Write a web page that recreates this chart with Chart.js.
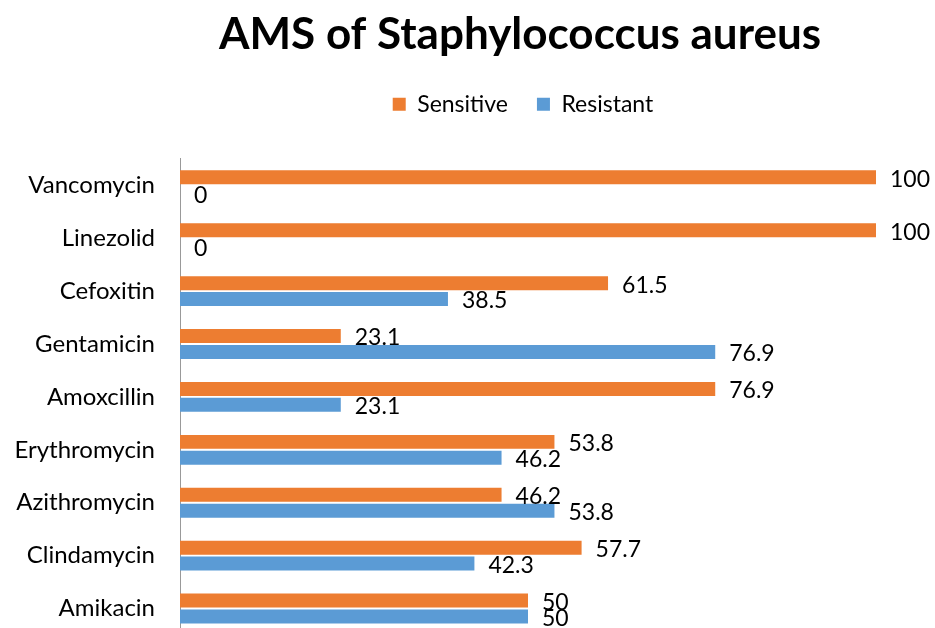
<!DOCTYPE html>
<html>
<head>
<meta charset="utf-8">
<script src="https://cdn.jsdelivr.net/npm/chart.js@4"></script>
<style>
  html, body { margin: 0; padding: 0; background: #fff; overflow: hidden; }
  #wrap { width: 935px; height: 635px; }
</style>
</head>
<body>
<div id="wrap"><canvas id="c" width="935" height="635"></canvas></div>
<script>
const chartTitle = 'AMS of Staphylococcus aureus';
const categories = ['Vancomycin', 'Linezolid', 'Cefoxitin', 'Gentamicin', 'Amoxcillin', 'Erythromycin', 'Azithromycin', 'Clindamycin', 'Amikacin'];
const seriesNames = ['Sensitive', 'Resistant'];
const sensitive = [100, 100, 61.5, 23.1, 76.9, 53.8, 46.2, 57.7, 50];
const resistant = [0, 0, 38.5, 76.9, 23.1, 46.2, 53.8, 42.3, 50];

const FONT = 'Lato, "Open Sans", sans-serif';
const TEXT_SIZE = 23;

const valueLabels = {
  id: 'valueLabels',
  afterDatasetsDraw(chart) {
    const ctx = chart.ctx;
    ctx.save();
    ctx.font = TEXT_SIZE + 'px ' + FONT;
    ctx.fillStyle = '#000';
    ctx.textAlign = 'left';
    ctx.textBaseline = 'middle';
    chart.data.datasets.forEach((ds, di) => {
      const meta = chart.getDatasetMeta(di);
      meta.data.forEach((el, i) => {
        ctx.fillText(String(ds.data[i]), el.x + 14, el.y + 2);
      });
    });
    ctx.restore();
  }
};

// shift the title / legend centring slightly left, as in the original
const headerShift = {
  id: 'headerShift',
  afterLayout(chart) {
    if (chart.titleBlock) chart.titleBlock.left = 164;
    if (chart.legend) chart.legend.left = 170;
  }
};

new Chart(document.getElementById('c'), {
  type: 'bar',
  data: {
    labels: categories,
    datasets: [
      { label: seriesNames[0], data: sensitive, backgroundColor: '#ED7D31', categoryPercentage: 0.6, barPercentage: 0.88 },
      { label: seriesNames[1], data: resistant, backgroundColor: '#5B9BD5', categoryPercentage: 0.6, barPercentage: 0.88 }
    ]
  },
  options: {
    indexAxis: 'y',
    responsive: false,
    animation: false,
    devicePixelRatio: 1,
    layout: { padding: { left: 0, right: 59, top: 0, bottom: 0 } },
    plugins: {
      title: {
        display: true,
        fullSize: false,
        text: chartTitle,
        color: '#000',
        font: { family: FONT, size: 44, weight: 'bold' },
        padding: { top: 8, bottom: 3 }
      },
      legend: {
        display: true,
        fullSize: false,
        position: 'top',
        labels: {
          color: '#000',
          font: { family: FONT, size: TEXT_SIZE },
          boxWidth: 13,
          boxHeight: 13,
          padding: 29
        }
      },
      tooltip: { enabled: false }
    },
    scales: {
      x: {
        position: 'top',
        min: 0,
        max: 100,
        display: true,
        grid: { display: false },
        border: { display: false },
        ticks: { display: false },
        afterFit(scale) { scale.height = 33; }
      },
      y: {
        grid: { display: false, drawTicks: false },
        border: { display: true, color: '#999', width: 1 },
        ticks: { color: '#000', font: { family: FONT, size: 24 }, padding: 25 },
        afterFit(scale) {
          scale.width = 180;
          scale.paddingTop = 0;
          scale.paddingBottom = 0;
        }
      }
    }
  },
  plugins: [valueLabels, headerShift]
});
</script>
</body>
</html>
